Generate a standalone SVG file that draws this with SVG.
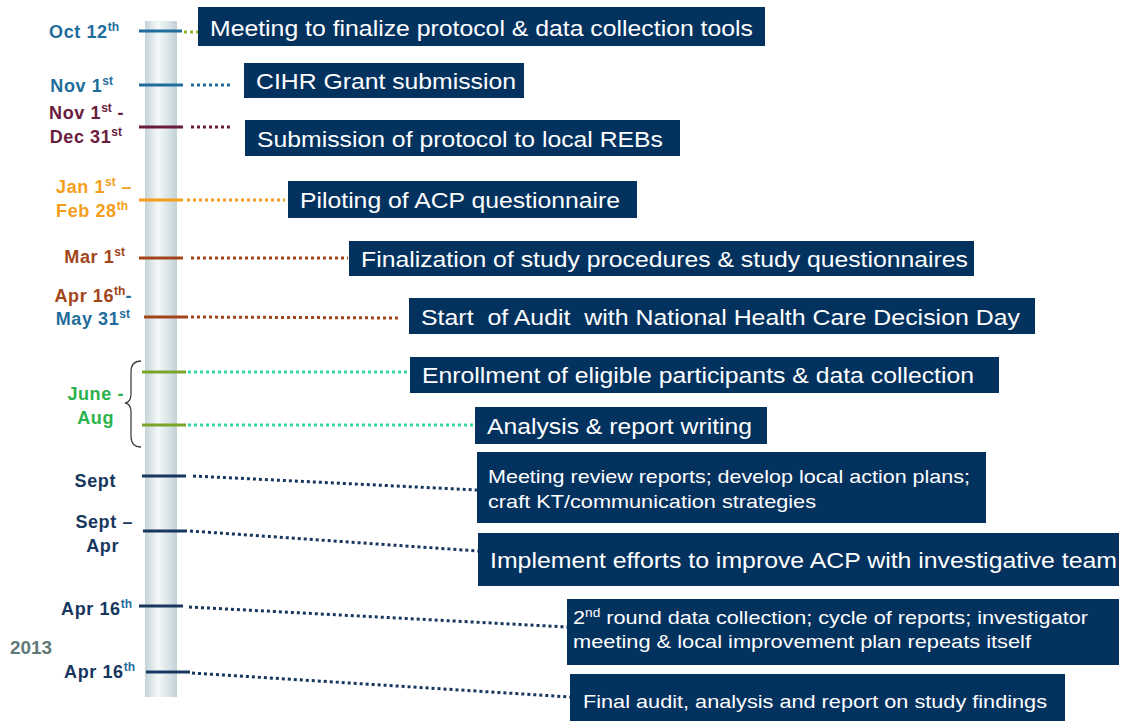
<svg xmlns="http://www.w3.org/2000/svg" width="1123" height="721" viewBox="0 0 1123 721">
<defs>
<linearGradient id="bar" x1="0" y1="0" x2="1" y2="0">
<stop offset="0" stop-color="#c3d3d8"/>
<stop offset="0.4" stop-color="#f5f8f8"/>
<stop offset="0.75" stop-color="#d9e3e6"/>
<stop offset="1" stop-color="#c0d1d6"/>
</linearGradient>
<style>
.box{fill:#03325f}
.bt{font-family:"Liberation Sans",Arial,sans-serif;fill:#ffffff;font-size:22px}
.bs{font-family:"Liberation Sans",Arial,sans-serif;fill:#ffffff;font-size:19px}
.lb{font-family:"Liberation Sans",Arial,sans-serif;font-weight:bold;font-size:18px;letter-spacing:0.6px;text-anchor:end}
.sup{font-size:12px;letter-spacing:0}
.tick{stroke-width:3;fill:none}
.dot{stroke-width:3;fill:none;stroke-dasharray:3 3}
.blue{fill:#1f6d9c}.maroon{fill:#6a1c3e}.orange{fill:#f59e1b}.brown{fill:#a3451a}.green{fill:#2bb24c}.navy{fill:#17375e}
</style>
</defs>
<rect x="145" y="21" width="32" height="676" fill="url(#bar)"/>
<g id="connectors">
<line class="tick" x1="139" y1="31" x2="182" y2="31" stroke="#1f6d9c"/>
<line class="dot" x1="184" y1="32" x2="198" y2="32" stroke="#8db52c"/>
<line class="tick" x1="139" y1="85" x2="183" y2="85" stroke="#1f6d9c"/>
<line class="dot" x1="191" y1="85" x2="230" y2="85" stroke="#1f6d9c"/>
<line class="tick" x1="139" y1="127" x2="183" y2="127" stroke="#6a1c3e"/>
<line class="dot" x1="191" y1="127" x2="230" y2="127" stroke="#6a1c3e"/>
<line class="tick" x1="139" y1="200" x2="183" y2="200" stroke="#f59e1b"/>
<line class="dot" x1="187" y1="200" x2="285" y2="200" stroke="#f59e1b"/>
<line class="tick" x1="139" y1="258" x2="183" y2="258" stroke="#a3451a"/>
<line class="dot" x1="191" y1="258" x2="348" y2="258" stroke="#a3451a"/>
<line class="tick" x1="144" y1="317" x2="188" y2="317" stroke="#a3451a"/>
<line class="dot" x1="191" y1="317" x2="400" y2="318" stroke="#a3451a"/>
<line class="tick" x1="142" y1="372" x2="186" y2="372" stroke="#7aa52a"/>
<line class="dot" x1="188" y1="372" x2="409" y2="372" stroke="#35d8a6"/>
<line class="tick" x1="142" y1="425" x2="186" y2="425" stroke="#7aa52a"/>
<line class="dot" x1="188" y1="425" x2="475" y2="425" stroke="#35d8a6"/>
<line class="tick" x1="142" y1="476" x2="186" y2="476" stroke="#17375e"/>
<line class="dot" x1="193" y1="476" x2="477" y2="490" stroke="#17375e"/>
<line class="tick" x1="143" y1="531" x2="187" y2="531" stroke="#17375e"/>
<line class="dot" x1="190" y1="531" x2="478" y2="551" stroke="#17375e"/>
<line class="tick" x1="139" y1="606" x2="183" y2="606" stroke="#17375e"/>
<line class="dot" x1="189" y1="607" x2="567" y2="627" stroke="#17375e"/>
<line class="tick" x1="146" y1="672" x2="190" y2="672" stroke="#17375e"/>
<line class="dot" x1="192" y1="673" x2="570" y2="697" stroke="#17375e"/>
<path d="M141,361 Q131,361 131,372 L131,394 Q131,402 125,403 Q131,404 131,412 L131,436 Q131,447 141,447" fill="none" stroke="#444" stroke-width="1.3"/>
</g>
<g id="labels">
<text class="lb blue" x="119" y="38">Oct 12<tspan class="sup" dy="-7">th</tspan></text>
<text class="lb blue" x="113" y="92">Nov 1<tspan class="sup" dy="-7">st</tspan></text>
<text class="lb maroon" x="124" y="119">Nov 1<tspan class="sup" dy="-7">st</tspan><tspan dy="7"> -</tspan></text>
<text class="lb maroon" x="122" y="143">Dec 31<tspan class="sup" dy="-7">st</tspan></text>
<text class="lb orange" x="132" y="193">Jan 1<tspan class="sup" dy="-7">st</tspan><tspan dy="7"> –</tspan></text>
<text class="lb orange" x="128" y="217">Feb 28<tspan class="sup" dy="-7">th</tspan></text>
<text class="lb brown" x="125" y="263">Mar 1<tspan class="sup" dy="-7">st</tspan></text>
<text class="lb brown" x="132" y="302">Apr 16<tspan class="sup" dy="-7">th</tspan><tspan dy="7" class="blue">-</tspan></text>
<text class="lb blue" x="130" y="325">May 31<tspan class="sup" dy="-7">st</tspan></text>
<text class="lb green" x="124" y="400">June -</text>
<text class="lb green" x="114" y="424">Aug</text>
<text class="lb navy" x="116" y="487">Sept</text>
<text class="lb navy" x="133" y="528">Sept –</text>
<text class="lb navy" x="119" y="552">Apr</text>
<text class="lb navy" x="132" y="615">Apr 16<tspan class="sup blue" dy="-7">th</tspan></text>
<text x="10" y="654" font-family="Liberation Sans,Arial,sans-serif" font-weight="bold" font-size="17.5" fill="#5f7878" textLength="42" lengthAdjust="spacingAndGlyphs">2013</text>
<text class="lb navy" x="135" y="678">Apr 16<tspan class="sup blue" dy="-7">th</tspan></text>
</g>
<g id="n1"><rect class="box" x="198" y="7" width="567" height="39"/><text class="bt" x="210" y="36" textLength="543" lengthAdjust="spacingAndGlyphs">Meeting to finalize protocol &amp; data collection tools</text></g>
<g id="n2"><rect class="box" x="244" y="63" width="280" height="35"/><text class="bt" x="256" y="89" textLength="260" lengthAdjust="spacingAndGlyphs">CIHR Grant submission</text></g>
<g id="n3"><rect class="box" x="245" y="120" width="435" height="36"/><text class="bt" x="257" y="147" textLength="406" lengthAdjust="spacingAndGlyphs">Submission of protocol to local REBs</text></g>
<g id="n4"><rect class="box" x="288" y="181" width="349" height="37"/><text class="bt" x="300" y="208" textLength="320" lengthAdjust="spacingAndGlyphs">Piloting of ACP questionnaire</text></g>
<g id="n5"><rect class="box" x="349" y="241" width="625" height="35"/><text class="bt" x="361" y="267" textLength="607" lengthAdjust="spacingAndGlyphs">Finalization of study procedures &amp; study questionnaires</text></g>
<g id="n6"><rect class="box" x="409" y="298" width="626" height="36"/><text class="bt" x="421" y="325" textLength="599" lengthAdjust="spacingAndGlyphs" xml:space="preserve">Start  of Audit  with National Health Care Decision Day</text></g>
<g id="n7"><rect class="box" x="410" y="357" width="589" height="36"/><text class="bt" x="422" y="383" textLength="552" lengthAdjust="spacingAndGlyphs">Enrollment of eligible participants &amp; data collection</text></g>
<g id="n8"><rect class="box" x="475" y="407" width="292" height="37"/><text class="bt" x="487" y="434" textLength="265" lengthAdjust="spacingAndGlyphs">Analysis &amp; report writing</text></g>
<g id="n9"><rect class="box" x="477" y="452" width="509" height="71"/><text class="bs" x="488" y="483" textLength="482" lengthAdjust="spacingAndGlyphs">Meeting review reports; develop local action plans;</text><text class="bs" x="488" y="508" textLength="328" lengthAdjust="spacingAndGlyphs">craft KT/communication strategies</text></g>
<g id="n10"><rect class="box" x="478" y="533" width="641" height="53"/><text class="bt" x="490" y="568" textLength="627" lengthAdjust="spacingAndGlyphs">Implement efforts to improve ACP with investigative team</text></g>
<g id="n11"><rect class="box" x="567" y="599" width="552" height="66"/><text class="bs" x="573" y="624" textLength="515" lengthAdjust="spacingAndGlyphs">2<tspan font-size="12" dy="-7">nd</tspan><tspan dy="7"> round data collection; cycle of reports; investigator</tspan></text><text class="bs" x="573" y="648" textLength="458" lengthAdjust="spacingAndGlyphs">meeting &amp; local improvement plan repeats itself</text></g>
<g id="n12"><rect class="box" x="570" y="674" width="495" height="47"/><text class="bs" x="583" y="708" textLength="464" lengthAdjust="spacingAndGlyphs">Final audit, analysis and report on study findings</text></g>
</svg>
